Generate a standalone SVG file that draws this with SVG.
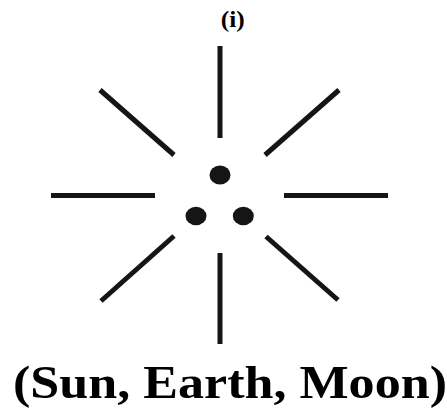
<svg xmlns="http://www.w3.org/2000/svg" width="447" height="408" viewBox="0 0 447 408">
<style>
.ray{stroke:#151515;stroke-width:5;stroke-linecap:butt;fill:none}
.dot{fill:#151515}
.t{font-family:"Liberation Serif","Times New Roman",serif;font-weight:bold;fill:#000}
</style>
<rect width="447" height="408" fill="#fff"/>
<text class="t" x="232.8" y="27" font-size="24" text-anchor="middle" textLength="24" lengthAdjust="spacingAndGlyphs">(i)</text>
<g id="rays">
<line class="ray" x1="220" y1="46" x2="220" y2="138"/>
<line class="ray" x1="100" y1="90" x2="174" y2="155"/>
<line class="ray" x1="339" y1="90" x2="265" y2="155"/>
<line class="ray" x1="51" y1="195.5" x2="155" y2="195.5"/>
<line class="ray" x1="284" y1="195.5" x2="388" y2="195.5"/>
<line class="ray" x1="174" y1="236" x2="101" y2="301"/>
<line class="ray" x1="266" y1="236.5" x2="338" y2="300"/>
<line class="ray" x1="220" y1="253" x2="220" y2="344"/>
</g>
<g id="sun"><ellipse class="dot" cx="220" cy="175" rx="10.5" ry="9.5"/></g>
<g id="earth"><ellipse class="dot" cx="196" cy="216" rx="10.5" ry="9.3"/></g>
<g id="moon"><ellipse class="dot" cx="243.3" cy="216" rx="10.5" ry="9.3"/></g>
<text class="t" x="13" y="398" font-size="46" textLength="434" lengthAdjust="spacingAndGlyphs">(Sun, Earth, Moon)</text>
</svg>
